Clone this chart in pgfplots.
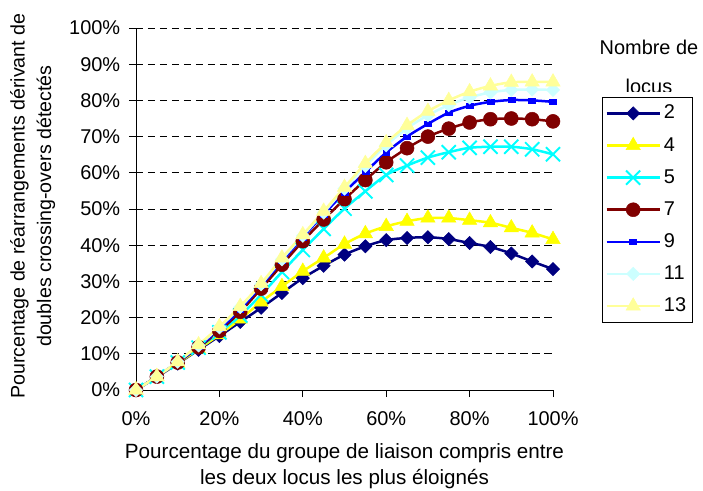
\documentclass[border=0pt]{standalone}
\usepackage{fontspec}
\setmainfont{Liberation Sans}
\usepackage{pgfplots}
\usepackage{pgfplotstable}
\pgfplotsset{compat=1.18}

\definecolor{cII}{HTML}{000080}
\definecolor{cIV}{HTML}{FFFF00}
\definecolor{cV}{HTML}{00FFFF}
\definecolor{cVII}{HTML}{800000}
\definecolor{cIX}{HTML}{0000FF}
\definecolor{cXI}{HTML}{CCFFFF}
\definecolor{cXIII}{HTML}{FFFF99}

% pourcentage du groupe de liaison (x) / pourcentage de rearrangements, par nombre de locus
\pgfplotstableread{
x   s2   s4   s5   s7   s9   s11  s13
0   0    0    0    0    0    0    0
5   3.6  3.7  3.7  3.7  3.7  3.7  3.7
10  7.3  7.4  7.6  7.6  7.7  7.8  7.8
15  11.1 11.3 11.7 11.8 12.0 12.3 12.5
20  14.9 15.3 15.9 16.3 16.8 17.3 17.5
25  18.8 19.6 20.6 21.6 22.3 22.9 23.1
30  22.7 24.3 26.3 28.0 28.8 29.2 29.4
35  26.8 28.6 32.6 34.6 35.6 36.1 36.5
40  30.9 32.8 38.7 41.1 42.2 42.6 42.9
45  34.3 36.5 44.5 47.1 48.5 49.0 49.4
50  37.4 40.3 50.1 52.7 54.6 55.6 56.0
55  39.7 43.2 54.9 58.0 60.2 61.9 62.6
60  41.4 45.2 59.4 62.9 65.6 67.6 68.3
65  42.0 46.6 62.0 66.8 70.0 72.3 73.1
70  42.2 47.5 64.2 70.0 73.5 75.9 77.0
75  41.7 47.5 65.7 72.2 76.6 78.7 80.0
80  40.6 46.9 66.9 73.9 78.5 80.8 82.4
85  39.5 46.2 67.2 74.8 79.6 82.2 84.0
90  37.7 44.8 67.2 75.0 80.1 82.9 85.0
95  35.5 43.4 66.5 74.8 80.0 83.0 85.1
100 33.4 41.6 65.1 74.2 79.6 82.9 85.1
}\crossovers

\begin{document}
\fontsize{20}{26}\selectfont
\begin{tikzpicture}
\begin{axis}[
    name=ax,
    scale only axis,
    width=417bp, height=362bp,
    xmin=0, xmax=100, ymin=0, ymax=100,
    xtick={0,20,...,100},
    ytick={0,10,...,100},
    xticklabel={\pgfmathprintnumber[assume math mode=true]{\tick}\%},
    yticklabel={\pgfmathprintnumber[assume math mode=true]{\tick}\%},
    xticklabel style={yshift=-8bp},
    yticklabel style={xshift=-2bp},
    axis x line*=bottom, axis y line*=left,
    axis line style={black, line width=0.9bp},
    tick style={black, line width=0.9bp},
    tick align=outside,
    major tick length=7bp,
    ymajorgrids,
    major grid style={black, line width=0.9bp, dash pattern=on 7.5bp off 4.5bp},
    clip=false,
    xlabel={Pourcentage du groupe de liaison compris entre\\les deux locus les plus éloignés},
    xlabel style={align=center, font=\fontsize{20.7}{26}\selectfont,
        at={(axis description cs:0.5,-0.1464)}, anchor=north, inner sep=0pt},
    ylabel={Pourcentage de réarrangements dérivant de\\doubles crossing-overs détectés},
    ylabel style={align=center, font=\fontsize{19.7}{26.5}\selectfont,
        at={(axis description cs:-0.302,0.508)}, anchor=north, inner sep=0pt},
    every axis plot/.append style={line width=2.5bp, smooth},
    legend image code/.code={
        \draw[mark repeat=2, mark phase=2, #1] plot coordinates {(0bp,0bp) (26.5bp,0bp) (53bp,0bp)};
    },
    legend cell align=left,
    legend style={at={(axis description cs:1.1175,0.810)}, anchor=north west,
        draw=black, line width=0.9bp, fill=white,
        inner xsep=3bp, inner ysep=4.7bp, row sep=9.1bp,
        nodes={inner sep=3bp, text height=14bp, text depth=3bp}},
]
\addplot[color=cII, mark=square*, mark size=4.7bp, mark options={solid, fill=cII, rotate=45, line width=0.5bp}]
    table[x=x, y=s2]{\crossovers};
\addplot[color=cIV, mark=triangle*, mark size=8.3bp, mark options={solid, fill=cIV, line width=0.5bp}]
    table[x=x, y=s4]{\crossovers};
\addplot[color=cV, mark=x, mark size=10bp, mark options={solid, line width=1.9bp}]
    table[x=x, y=s5]{\crossovers};
\addplot[color=cVII, mark=*, mark size=7bp, mark options={solid, fill=cVII, line width=0.5bp}]
    table[x=x, y=s7]{\crossovers};
\addplot[color=cIX, mark=square*, mark size=3bp, mark options={solid, fill=cIX, xscale=1.15, yscale=0.85, line width=0.5bp}]
    table[x=x, y=s9]{\crossovers};
\addplot[color=cXI, mark=square*, mark size=4.7bp, mark options={solid, fill=cXI, rotate=45, line width=0.5bp}]
    table[x=x, y=s11]{\crossovers};
\addplot[color=cXIII, mark=triangle*, mark size=8.3bp, mark options={solid, fill=cXIII, line width=0.5bp}]
    table[x=x, y=s13]{\crossovers};
\legend{2,4,5,7,9,11,13}
\end{axis}
% titre de la legende, la seconde ligne coupee comme dans l'original
\node[anchor=base] at ([xshift=96bp, yshift=-27bp]ax.north east) {Nombre de};
\begin{scope}
  \clip ([xshift=40bp, yshift=-45bp]ax.north east) rectangle ([xshift=150bp, yshift=-63.5bp]ax.north east);
  \node[anchor=base] at ([xshift=96bp, yshift=-65.5bp]ax.north east) {locus};
\end{scope}
\pgfresetboundingbox
\useasboundingbox ([xshift=-136bp, yshift=-101bp]ax.south west) rectangle ([xshift=150bp, yshift=28bp]ax.north east);
\end{tikzpicture}
\end{document}
